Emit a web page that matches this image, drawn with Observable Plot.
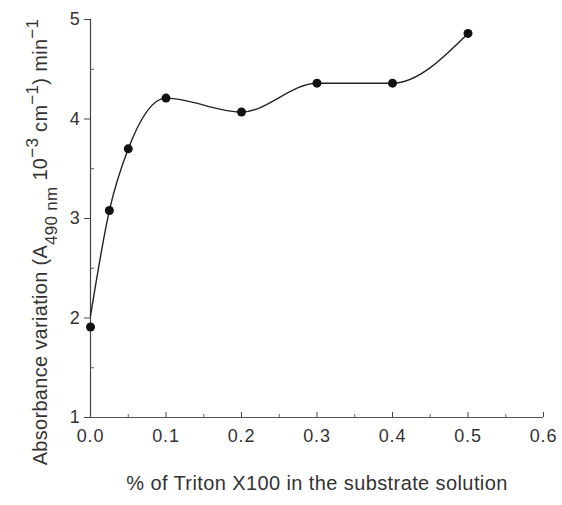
<!DOCTYPE html>
<html>
<head>
<meta charset="utf-8">
<script src="https://cdn.jsdelivr.net/npm/d3@7"></script>
<script src="https://cdn.jsdelivr.net/npm/@observablehq/plot@0.6"></script>
<style>
  html, body { margin: 0; padding: 0; background: #fff; }
</style>
</head>
<body>
<div id="chart"></div>
<script>
// Measured points
const triton = [0, 0.025, 0.05, 0.1, 0.2, 0.3, 0.4, 0.5];
const absorbance = [1.91, 3.08, 3.70, 4.21, 4.07, 4.36, 4.36, 4.86];
// Hand-drawn fitted curve knots (curve starts slightly above the first point)
const curveX = [0, 0.025, 0.05, 0.1, 0.2, 0.3, 0.4, 0.5];
const curveY = [2.02, 3.08, 3.70, 4.21, 4.07, 4.36, 4.36, 4.86];
// Axis ticks
const xTicks = [0, 0.1, 0.2, 0.3, 0.4, 0.5, 0.6];
const xMinorTicks = [0.05, 0.15, 0.25, 0.35, 0.45, 0.55];
const yTicks = [1, 2, 3, 4, 5];
const yMinorTicks = [1.5, 2.5, 3.5, 4.5];
const xLabel = "% of Triton X100 in the substrate solution";

const points = triton.map((x, i) => ({x, y: absorbance[i]}));
const curve = curveX.map((x, i) => ({x, y: curveY[i]}));

const ink = "#222";
const chart = Plot.plot({
  width: 562,
  height: 505,
  marginLeft: 90,
  marginRight: 19,
  marginTop: 19,
  marginBottom: 88,
  style: {fontFamily: "Liberation Sans, Arial, sans-serif", fontSize: "18px", color: "#333", background: "#fff"},
  x: {domain: [0, 0.6]},
  y: {domain: [1, 5]},
  marks: [
    Plot.ruleX([0], {stroke: "#444", strokeWidth: 1.2}),
    Plot.ruleY([1], {stroke: "#555", strokeWidth: 1.2}),
    Plot.axisY({ticks: yTicks, tickSize: 6, tickPadding: 4, tickFormat: d => String(d), label: null, stroke: "#444", fill: "#333"}),
    Plot.axisY({ticks: yMinorTicks, tickSize: -4, tickFormat: () => "", label: null, stroke: "#555"}),
    Plot.axisX({ticks: xTicks, tickSize: 0, tickPadding: 12, tickFormat: d => d.toFixed(1), label: null, fill: "#333"}),
    Plot.axisX({ticks: xTicks, tickSize: -5, tickFormat: () => "", label: null, stroke: "#444"}),
    Plot.axisX({ticks: xMinorTicks, tickSize: -3, tickFormat: () => "", label: null, stroke: "#666"}),
    Plot.line(curve, {x: "x", y: "y", curve: "monotone-x", stroke: ink, strokeWidth: 1.4}),
    Plot.dot(points, {x: "x", y: "y", r: 4.5, fill: "#111", stroke: "none"})
  ]
});

const svg = d3.select(chart);
// tick labels: slightly wider set
svg.selectAll("text")
  .attr("font-size", null)
  .style("font-size", "18px")
  .style("letter-spacing", "0.8px");

// x-axis title
svg.append("text")
  .attr("x", 317).attr("y", 490)
  .attr("text-anchor", "middle")
  .attr("fill", "#333")
  .style("font-family", "Liberation Sans, Arial, sans-serif")
  .style("font-size", "20px")
  .style("letter-spacing", "0.4px")
  .text(xLabel);
// y-axis title with subscripts/superscripts
const yl = svg.append("text")
  .attr("transform", "translate(47,242) rotate(-90)")
  .attr("text-anchor", "middle")
  .attr("fill", "#333")
  .style("font-family", "Liberation Sans, Arial, sans-serif")
  .style("font-size", "20px")
  .style("letter-spacing", "0.3px");
yl.append("tspan").text("Absorbance variation (A");
yl.append("tspan").attr("baseline-shift", "sub").style("font-size", "17px").text("490 nm");
yl.append("tspan").text(" 10");
yl.append("tspan").attr("baseline-shift", "super").style("font-size", "17px").text("\u22123");
yl.append("tspan").text(" cm");
yl.append("tspan").attr("baseline-shift", "super").style("font-size", "17px").text("\u22121");
yl.append("tspan").text(") min");
yl.append("tspan").attr("baseline-shift", "super").style("font-size", "17px").text("\u22121");

document.getElementById("chart").appendChild(chart);
</script>
</body>
</html>
